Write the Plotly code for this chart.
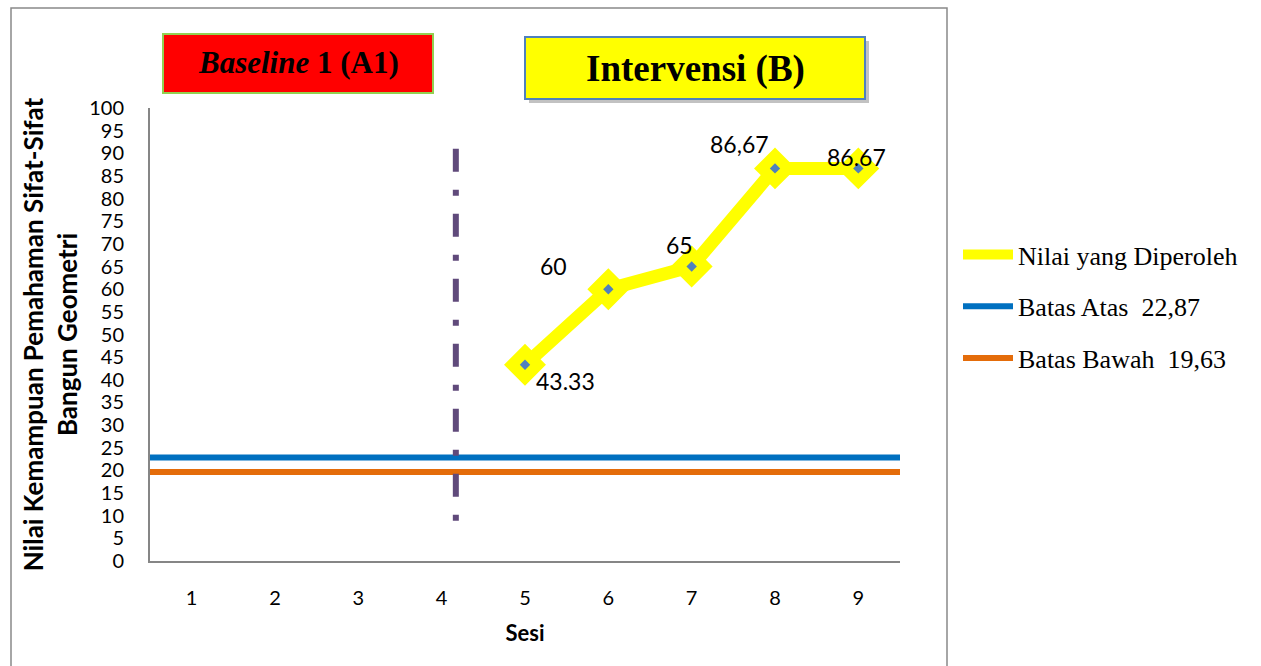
import plotly.graph_objects as go

# Sessions and scores
SESI = [1, 2, 3, 4, 5, 6, 7, 8, 9]
INTERVENSI_SESI = [5, 6, 7, 8, 9]
NILAI = [43.33, 60, 65, 86.67, 86.67]
LABEL_SEP = [".", ".", ".", ",", "."]          # decimal separator per data label
LABEL_SHIFT = [(40, -16), (-55, 23), (-12, 22), (-36, 24), (-2, 11)]

BATAS_ATAS = 22.87
BATAS_BAWAH = 19.63
PHASE_LINE_X = 4.17
PHASE_LINE_Y = [91, 5.5]   # drawn top to bottom

Y_TICKS = list(range(0, 101, 5))

W, H = 1261, 666
L, R, T, B = 150, 900, 108, 561   # plot area in pixels


def px(x):
    return (x - L) / (R - L)


def py(y):
    return (B - y) / (B - T)


fig = go.Figure()

x_span = [SESI[0] - 0.5, SESI[-1] + 0.5]

fig.add_trace(go.Scatter(
    x=x_span, y=[BATAS_ATAS] * 2, mode="lines",
    line=dict(color="#0070C0", width=6),
    name="Batas Atas  22,87", legendrank=2, legendgroup="b", hoverinfo="skip"))
fig.add_trace(go.Scatter(
    x=x_span, y=[BATAS_BAWAH] * 2, mode="lines",
    line=dict(color="#E46C0A", width=6),
    name="Batas Bawah  19,63", legendrank=3, legendgroup="c", hoverinfo="skip"))

# Phase change line (session 4 -> 5)
fig.add_trace(go.Scatter(
    x=[PHASE_LINE_X, PHASE_LINE_X], y=PHASE_LINE_Y, mode="lines",
    line=dict(color="#604A7B", width=6, dash="23px,18px,6px,18px"),
    showlegend=False, hoverinfo="skip"))

fig.add_trace(go.Scatter(
    x=INTERVENSI_SESI, y=NILAI, mode="lines",
    line=dict(color="#FFFF00", width=13),
    name="Nilai yang Diperoleh", legendrank=1, legendgroup="a"))
fig.add_trace(go.Scatter(
    x=INTERVENSI_SESI, y=NILAI, mode="markers",
    marker=dict(symbol="diamond", size=29, color="#FFFF00",
                line=dict(color="#FFFF00", width=3)),
    showlegend=False, hoverinfo="skip"))
fig.add_trace(go.Scatter(
    x=INTERVENSI_SESI, y=NILAI, mode="markers",
    marker=dict(symbol="diamond", size=8, color="#4F81BD"),
    showlegend=False))

# Data labels
for xv, v, sep, (dx, dy) in zip(INTERVENSI_SESI, NILAI, LABEL_SEP, LABEL_SHIFT):
    fig.add_annotation(x=xv, y=v, xref="x", yref="y", text=f"{v:g}".replace(".", sep),
                       showarrow=False, xshift=dx, yshift=dy,
                       font=dict(family="Lato", size=23, color="#000000"))

# Outer frame
fig.add_shape(type="rect", xref="paper", yref="paper",
              x0=px(11), x1=px(947), y0=py(700), y1=py(8),
              line=dict(color="#898989", width=1.5), layer="below")

# Phase boxes
fig.add_shape(type="rect", xref="paper", yref="paper",
              x0=px(163), x1=px(433), y0=py(93), y1=py(34),
              fillcolor="#FF0000", line=dict(color="#92D050", width=2))
fig.add_shape(type="rect", xref="paper", yref="paper",
              x0=px(529), x1=px(869), y0=py(103), y1=py(41),
              fillcolor="rgba(120,120,120,0.45)", line=dict(width=0))
fig.add_shape(type="rect", xref="paper", yref="paper",
              x0=px(525), x1=px(865), y0=py(99), y1=py(37),
              fillcolor="#FFFF00", line=dict(color="#4F81BD", width=2))
fig.add_annotation(xref="paper", yref="paper", x=px(298), y=py(63),
                   xanchor="center", yanchor="middle",
                   text="<i>Baseline</i> 1 (A1)", showarrow=False,
                   font=dict(family="Liberation Serif", size=31, color="#000000", weight="bold"))
fig.add_annotation(xref="paper", yref="paper", x=px(695), y=py(69),
                   xanchor="center", yanchor="middle",
                   text="Intervensi (B)", showarrow=False,
                   font=dict(family="Liberation Serif", size=37, color="#000000", weight="bold"))

fig.update_layout(
    width=W, height=H,
    margin=dict(l=L, r=W - R, t=T, b=H - B, pad=0),
    paper_bgcolor="white", plot_bgcolor="white",
    showlegend=True,
    legend=dict(x=px(958), y=py(231), xanchor="left", yanchor="top",
                font=dict(family="Liberation Serif", size=26, color="#000000"),
                traceorder="grouped", tracegroupgap=15, itemwidth=50,
                bgcolor="rgba(0,0,0,0)"),
    xaxis=dict(range=x_span, tickvals=SESI, ticktext=[str(s) for s in SESI],
               showgrid=False, zeroline=False, showline=True,
               linecolor="#868686", linewidth=2, ticks="", ticklabelstandoff=18,
               tickfont=dict(family="Lato", size=20, color="#000000"),
               title=dict(text="<b>Sesi</b>", standoff=18,
                          font=dict(family="Lato", size=22, color="#000000"))),
    yaxis=dict(range=[0, 100], tickvals=Y_TICKS,
               showgrid=False, zeroline=False, showline=True,
               linecolor="#868686", linewidth=2, ticks="", ticklabelstandoff=20,
               tickfont=dict(family="Lato", size=20, color="#000000"),
               title=dict(text="<b>Nilai Kemampuan Pemahaman Sifat-Sifat<br>Bangun Geometri</b>",
                          standoff=4,
                          font=dict(family="Lato", size=26, color="#000000"))),
)

fig.write_html("out.html")
